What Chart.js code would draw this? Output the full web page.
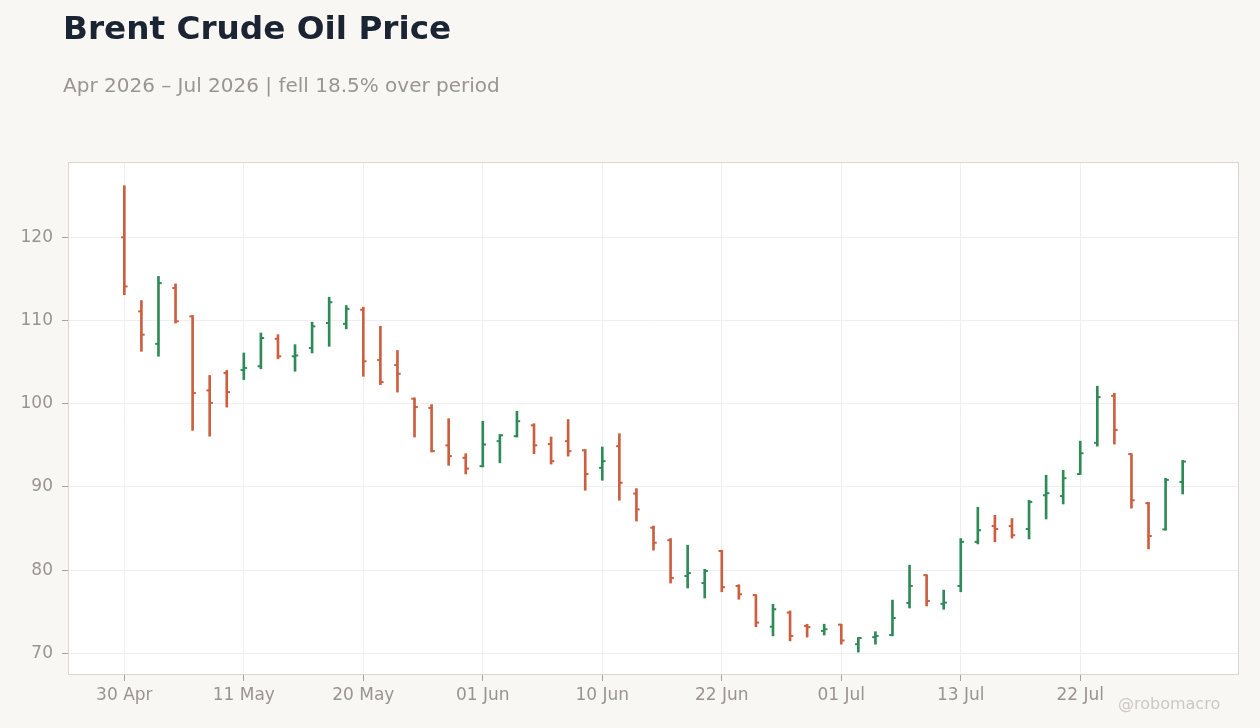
<!DOCTYPE html>
<html>
<head>
<meta charset="utf-8">
<script src="https://cdn.jsdelivr.net/npm/chart.js@4.4.1/dist/chart.umd.min.js"></script>
<style>
  html, body { margin:0; padding:0; background:#f9f7f4; }
  #wrap { position:relative; width:1260px; height:728px; overflow:hidden; }
  canvas { position:absolute; left:0; top:0; }
  .t { position:absolute; font-family:"DejaVu Sans", sans-serif; white-space:nowrap; }
  #title { left:63px; top:11.5px; font-size:32.7px; line-height:33px; font-weight:bold; color:#1b2433; }
  #sub { left:63px; top:75px; font-size:20px; line-height:20px; color:#9a9590; }
  #wm { left:1118px; top:696px; font-size:16px; line-height:16px; color:#cdc8c3; }
</style>
</head>
<body>
<div id="wrap">
  <canvas id="c" width="1260" height="728"></canvas>
  <div class="t" id="title">Brent Crude Oil Price</div>
  <div class="t" id="sub">Apr 2026 – Jul 2026 | fell 18.5% over period</div>
  <div class="t" id="wm">@robomacro</div>
</div>
<script>
// ---- data ----
const dates = [
  '2026-04-30','2026-05-01','2026-05-04','2026-05-05','2026-05-06','2026-05-07','2026-05-08',
  '2026-05-11','2026-05-12','2026-05-13','2026-05-14','2026-05-15','2026-05-18','2026-05-19',
  '2026-05-20','2026-05-21','2026-05-22','2026-05-26','2026-05-27','2026-05-28','2026-05-29',
  '2026-06-01','2026-06-02','2026-06-03','2026-06-04','2026-06-05','2026-06-08','2026-06-09',
  '2026-06-10','2026-06-11','2026-06-12','2026-06-15','2026-06-16','2026-06-17','2026-06-18',
  '2026-06-22','2026-06-23','2026-06-24','2026-06-25','2026-06-26','2026-06-29','2026-06-30',
  '2026-07-01','2026-07-02','2026-07-06','2026-07-07','2026-07-08','2026-07-09','2026-07-10',
  '2026-07-13','2026-07-14','2026-07-15','2026-07-16','2026-07-17','2026-07-20','2026-07-21',
  '2026-07-22','2026-07-23','2026-07-24','2026-07-27','2026-07-28','2026-07-29','2026-07-30'
];
const opens = [
  120.0,111.1,107.2,113.9,110.5,101.6,103.7,
  104.05,104.5,107.8,105.7,106.7,109.7,109.6,
  111.3,105.25,104.65,100.6,99.5,95.0,93.5,
  92.5,95.5,96.1,97.4,95.15,95.5,94.4,
  92.3,94.9,89.2,85.1,83.6,79.3,78.45,
  82.3,78.1,77.0,73.2,74.9,73.3,72.7,
  73.45,71.1,71.95,72.2,76.05,79.4,75.95,
  78.1,83.4,85.3,85.3,84.95,89.0,88.9,
  91.55,95.3,100.95,93.95,88.05,84.9,90.6
];
const highs = [
  126.2,112.4,115.3,114.4,110.6,103.4,104.0,
  106.1,108.5,108.3,107.1,109.8,112.8,111.8,
  111.6,109.3,106.4,100.7,99.9,98.2,94.0,
  97.9,96.3,99.1,97.6,96.0,98.1,94.5,
  94.8,96.4,89.8,85.3,83.8,83.0,80.1,
  82.4,78.25,77.05,75.9,75.1,73.5,73.5,
  73.5,71.9,72.6,76.4,80.6,79.45,77.6,
  83.8,87.55,86.6,86.2,88.4,91.4,92.0,
  95.5,102.1,101.25,94.0,88.15,91.05,93.2
];
const lows = [
  113.1,106.3,105.7,109.7,96.8,96.1,99.6,
  102.9,104.2,105.4,103.9,106.1,106.9,109.0,
  103.3,102.3,101.4,96.0,94.2,92.6,91.55,
  92.4,92.9,96.0,94.0,92.75,93.7,89.6,
  90.8,88.4,85.9,82.4,78.45,77.85,76.65,
  77.4,76.5,73.2,72.1,71.5,71.95,72.2,
  71.1,70.15,71.1,72.1,75.45,75.7,75.3,
  77.4,83.15,83.4,83.85,83.75,86.15,87.95,
  91.5,94.9,95.15,87.45,82.55,84.8,89.15
];
const closes = [
  114.1,108.3,114.5,109.9,101.3,100.1,101.4,
  104.3,107.9,105.7,105.8,109.3,112.2,111.4,
  105.1,102.6,103.6,99.6,94.3,93.7,92.2,
  95.1,96.2,97.9,95.0,93.1,94.3,91.55,
  93.1,90.5,87.3,83.3,79.05,79.65,79.9,
  77.95,77.1,73.7,75.3,72.1,73.15,72.9,
  71.55,71.85,72.1,74.25,78.1,76.3,76.1,
  83.4,84.8,84.95,84.2,88.2,89.25,91.05,
  94.05,100.8,96.85,88.4,84.1,90.85,93.05
];
const xTickEvery = 7;
const yTicks = [70, 80, 90, 100, 110, 120];
const monthNames = ['Jan','Feb','Mar','Apr','May','Jun','Jul','Aug','Sep','Oct','Nov','Dec'];

// ---- styling ----
const UP = '#2e8b57', DOWN = '#cc5f3f';
const TICK_OFF = 0.09;
const colors = opens.map((o, i) => closes[i] >= o ? UP : DOWN);
const xTickIdx = dates.map((d, i) => i).filter(i => i % xTickEvery === 0);
function fmtDate(s) {
  const p = s.split('-');
  return p[2] + ' ' + monthNames[parseInt(p[1], 10) - 1];
}

const plotFrame = {
  id: 'plotFrame',
  beforeDraw(c) {
    const a = c.chartArea, ctx = c.ctx;
    ctx.save();
    ctx.fillStyle = '#ffffff';
    ctx.fillRect(a.left, a.top, a.right - a.left, a.bottom - a.top);
    ctx.restore();
  },
  beforeDatasetsDraw(c) {
    const a = c.chartArea, ctx = c.ctx;
    ctx.save();
    ctx.strokeStyle = '#ddd6ce';
    ctx.lineWidth = 1;
    ctx.strokeRect(Math.round(a.left) + 0.5, Math.round(a.top) + 0.5,
                   Math.round(a.right - a.left) - 1, Math.round(a.bottom - a.top) - 1);
    ctx.restore();
  }
};

const tickFont = { family: 'DejaVu Sans', size: 17 };
const tickColor = '#9a948f';

new Chart(document.getElementById('c'), {
  type: 'bar',
  data: {
    datasets: [
      {
        type: 'bar',
        data: dates.map((d, i) => ({ x: i, y: [lows[i], highs[i]] })),
        backgroundColor: colors,
        borderWidth: 0,
        barThickness: 2,
        order: 2
      },
      {
        type: 'scatter',
        data: opens.map((v, i) => ({ x: i - TICK_OFF, y: v })),
        pointStyle: 'line',
        pointRadius: 1.7,
        pointBorderWidth: 2,
        pointBorderColor: colors,
        pointBackgroundColor: colors,
        order: 1
      },
      {
        type: 'scatter',
        data: closes.map((v, i) => ({ x: i + TICK_OFF, y: v })),
        pointStyle: 'line',
        pointRadius: 1.7,
        pointBorderWidth: 2,
        pointBorderColor: colors,
        pointBackgroundColor: colors,
        order: 1
      }
    ]
  },
  options: {
    responsive: false,
    animation: false,
    events: [],
    layout: { padding: { left: 0, right: 21, top: 162, bottom: 0 } },
    plugins: { legend: { display: false }, tooltip: { enabled: false } },
    scales: {
      x: {
        type: 'linear',
        offset: false,
        min: -3.3,
        max: dates.length - 1 + 3.3,
        afterBuildTicks: (ax) => { ax.ticks = xTickIdx.map(v => ({ value: v })); },
        afterFit: (ax) => { ax.height = 53; },
        grid: { offset: false, color: '#efefef', tickColor: '#a8a29c', tickLength: 6, lineWidth: 1 },
        border: { display: false },
        ticks: {
          font: tickFont, color: tickColor, padding: 4, maxRotation: 0, autoSkip: false,
          callback: (v) => fmtDate(dates[Math.round(v)])
        }
      },
      y: {
        type: 'linear',
        min: 67.4,
        max: 129.05,
        afterBuildTicks: (ax) => { ax.ticks = yTicks.map(v => ({ value: v })); },
        afterFit: (ax) => { ax.width = 68; },
        grid: { offset: false, color: '#efefef', tickColor: '#a8a29c', tickLength: 6, lineWidth: 1 },
        border: { display: false },
        ticks: { font: tickFont, color: tickColor, padding: 9, callback: (v) => String(v) }
      }
    }
  },
  plugins: [plotFrame]
});
</script>
</body>
</html>
